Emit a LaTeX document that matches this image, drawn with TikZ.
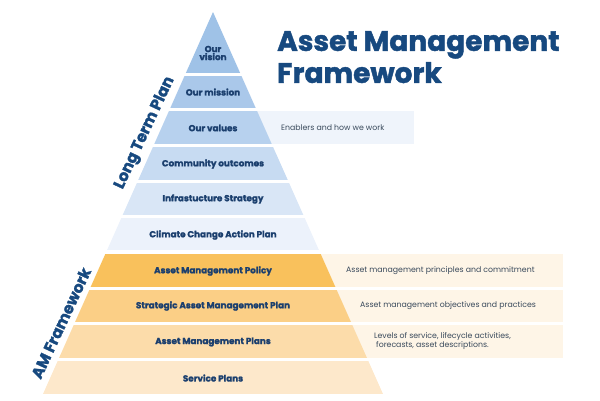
\documentclass[tikz,border=0pt]{standalone}
\usepackage{fontspec}
\setmainfont{Poppins}[BoldFont={Poppins Bold},BoldFeatures={FakeBold=1.6}]
\usepackage{tikz}
\definecolor{navy}{HTML}{1B3F6E}
\definecolor{titleblue}{HTML}{17497F}
\definecolor{sidegray}{HTML}{3A4A5C}
\definecolor{bA}{HTML}{9FC2E7}
\definecolor{bB}{HTML}{AAC8EA}
\definecolor{bC}{HTML}{B7D1EE}
\definecolor{bD}{HTML}{C7DBF2}
\definecolor{bE}{HTML}{D9E6F6}
\definecolor{bF}{HTML}{ECF2FB}
\definecolor{oA}{HTML}{F9C15C}
\definecolor{oB}{HTML}{FBCF86}
\definecolor{oC}{HTML}{FCDCAA}
\definecolor{oD}{HTML}{FDE8CB}
\definecolor{sideorange}{HTML}{FEF5E7}
\definecolor{sideblue}{HTML}{EFF4FB}

\begin{document}
\begin{tikzpicture}[x=1pt,y=-1pt,
    band/.style={font=\bfseries\fontsize{8.8}{10}\selectfont,text=navy,align=center,inner sep=0pt},
    side/.style={font=\fontsize{7.8}{9.5}\selectfont,text=sidegray,anchor=west,align=left,inner sep=0pt},
    edge/.style={font=\bfseries\fontsize{15.5}{17}\selectfont,text=titleblue,rotate=65,inner sep=0pt}]
            \useasboundingbox (0,0) rectangle (600,400);
            % side boxes
            \fill[sideblue] (213,111) rectangle (414,144);
            \fill[sideorange] (213,254) rectangle (563,287);
            \fill[sideorange] (213,290) rectangle (563,322);
            \fill[sideorange] (213,325) rectangle (563,358);
            % pyramid bands
            \begin{scope}
            \clip (213,12)--(383,394)--(43,394)--cycle;
            \fill[bA] (0,0) rectangle (600,73);
            \fill[bB] (0,76) rectangle (600,108);
            \fill[bC] (0,111) rectangle (600,144);
            \fill[bD] (0,147) rectangle (600,180);
            \fill[bE] (0,183) rectangle (600,215);
            \fill[bF] (0,218) rectangle (600,250);
            \fill[oA] (0,254) rectangle (600,287);
            \fill[oB] (0,290) rectangle (600,322);
            \fill[oC] (0,325) rectangle (600,358);
            \fill[oD] (0,361) rectangle (600,394);
            \end{scope}
            % band labels
            \node[band] (vision) at (213,53) {Our\\[-2pt]vision};
            \node[band] (mission) at (213,92) {Our mission};
            \node[band] (values) at (213,128) {Our values};
            \node[band] (community) at (213,164) {Community outcomes};
            \node[band] (infra) at (213,199) {Infrastucture Strategy};
            \node[band] (climate) at (213,235) {Climate Change Action Plan};
            \node[band] (policy) at (213,271) {Asset Management Policy};
            \node[band] (samp) at (213,306) {Strategic Asset Management Plan};
            \node[band] (amp) at (213,342) {Asset Management Plans};
            \node[band] (service) at (213,378) {Service Plans};
            % side texts
            \node[side] (enablers) at (281,128) {Enablers and how we work};
            \node[side] (principles) at (346,271) {Asset management principles and commitment};
            \node[side] (objectives) at (360,306) {Asset management objectives and practices};
            \node[side] (levels) at (374,341) {Levels of service, lifecycle activities,\\[-1pt]\hspace{2pt}forecasts, asset descriptions.};
            % edge labels
            \node[edge] (ltp) at (145,133) {Long Term Plan};
            \node[edge] (amf) at (61,323) {AM Framework};
            % title
            \node[font=\bfseries\fontsize{28}{32}\selectfont,text=titleblue,anchor=north west,align=left,inner sep=0pt] (title) at (277,31) {Asset Management\\Framework};
\end{tikzpicture}
\end{document}
